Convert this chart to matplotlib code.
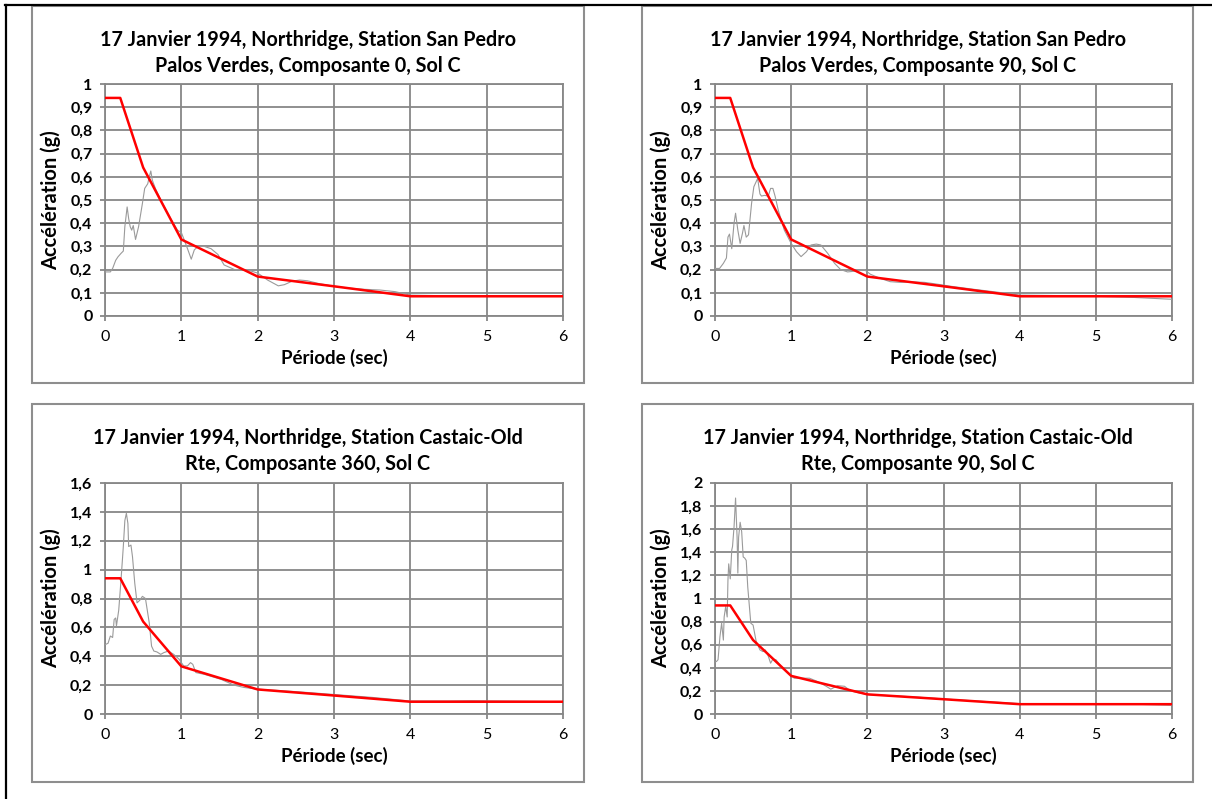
import matplotlib
matplotlib.use("Agg")
import matplotlib.pyplot as plt
from matplotlib.lines import Line2D
from matplotlib.patches import Rectangle
from matplotlib.ticker import FuncFormatter, MultipleLocator

plt.rcParams['font.family'] = ['Lato', 'DejaVu Sans']

W, H = 1212, 799

# Design spectrum (red), shared by all four records
design_T = [0.0, 0.2, 0.5, 1.0, 2.0, 3.0, 4.0, 6.0]
design_Sa = [0.94, 0.94, 0.64, 0.33, 0.17, 0.128, 0.085, 0.085]

# Response spectra of the recorded components (grey)
T1 = [0.0, 0.07, 0.10, 0.14, 0.17, 0.21, 0.24, 0.26, 0.29, 0.31, 0.33, 0.35, 0.37, 0.40, 0.44,
      0.49, 0.52, 0.56, 0.58, 0.60, 0.62, 0.66, 0.73, 0.86, 0.95, 1.00, 1.07, 1.13, 1.17, 1.22,
      1.30, 1.39, 1.48, 1.56, 1.63, 1.70, 1.78, 1.90, 2.00, 2.13, 2.27, 2.35, 2.45, 2.55, 2.65,
      2.80, 3.00, 3.20, 3.40, 3.60, 3.80, 4.00, 4.50, 5.00, 5.50, 6.00]
Sa1 = [0.19, 0.19, 0.205, 0.24, 0.255, 0.27, 0.28, 0.385, 0.47, 0.42, 0.385, 0.37, 0.39, 0.33, 0.385,
       0.485, 0.55, 0.57, 0.60, 0.625, 0.585, 0.55, 0.50, 0.42, 0.37, 0.36, 0.30, 0.245, 0.285, 0.30,
       0.30, 0.29, 0.265, 0.22, 0.21, 0.20, 0.20, 0.195, 0.185, 0.155, 0.13, 0.135, 0.15, 0.155, 0.152,
       0.14, 0.128, 0.12, 0.115, 0.112, 0.105, 0.09, 0.087, 0.088, 0.086, 0.085]

T2 = [0.0, 0.06, 0.11, 0.15, 0.17, 0.19, 0.22, 0.25, 0.27, 0.30, 0.33, 0.36, 0.38, 0.41, 0.44,
      0.48, 0.51, 0.56, 0.59, 0.61, 0.65, 0.70, 0.73, 0.76, 0.79, 0.83, 0.91, 1.00, 1.07, 1.13,
      1.20, 1.26, 1.33, 1.39, 1.48, 1.57, 1.65, 1.74, 1.83, 1.96, 2.04, 2.17, 2.30, 2.43, 2.60,
      2.75, 2.90, 3.10, 3.40, 3.70, 4.00, 4.50, 5.00, 5.50, 6.00]
Sa2 = [0.205, 0.205, 0.227, 0.25, 0.34, 0.353, 0.29, 0.40, 0.443, 0.37, 0.313, 0.356, 0.39, 0.34, 0.35,
       0.485, 0.557, 0.593, 0.526, 0.517, 0.52, 0.517, 0.55, 0.55, 0.515, 0.457, 0.37, 0.313, 0.277, 0.256,
       0.277, 0.306, 0.31, 0.306, 0.27, 0.227, 0.20, 0.19, 0.193, 0.20, 0.18, 0.162, 0.148, 0.145, 0.147,
       0.145, 0.138, 0.128, 0.115, 0.103, 0.09, 0.088, 0.085, 0.08, 0.072]

T3 = [0.0, 0.04, 0.07, 0.10, 0.12, 0.14, 0.15, 0.18, 0.21, 0.24, 0.26, 0.28, 0.30, 0.31, 0.34,
      0.36, 0.39, 0.42, 0.46, 0.49, 0.53, 0.58, 0.61, 0.64, 0.68, 0.73, 0.77, 0.83, 0.90, 0.97,
      1.03, 1.08, 1.12, 1.15, 1.19, 1.30, 1.52, 1.69, 1.82, 2.00, 2.20, 2.50, 3.00, 3.50, 4.00,
      4.50, 4.80, 5.20, 6.00]
Sa3 = [0.48, 0.49, 0.54, 0.53, 0.655, 0.665, 0.61, 0.72, 0.93, 1.16, 1.34, 1.39, 1.32, 1.16, 1.17,
       1.09, 0.905, 0.77, 0.79, 0.815, 0.80, 0.63, 0.47, 0.436, 0.43, 0.413, 0.425, 0.436, 0.413, 0.38,
       0.333, 0.333, 0.356, 0.344, 0.287, 0.275, 0.24, 0.20, 0.184, 0.172, 0.165, 0.155, 0.135, 0.115, 0.09,
       0.09, 0.092, 0.09, 0.085]

T4 = [0.0, 0.02, 0.04, 0.065, 0.087, 0.11, 0.12, 0.14, 0.16, 0.17, 0.18, 0.20, 0.22, 0.23, 0.25,
      0.27, 0.29, 0.30, 0.31, 0.33, 0.35, 0.37, 0.39, 0.41, 0.43, 0.47, 0.50, 0.54, 0.59, 0.63,
      0.66, 0.70, 0.73, 0.76, 0.80, 0.87, 0.96, 1.04, 1.13, 1.24, 1.35, 1.46, 1.52, 1.61, 1.70,
      1.78, 1.91, 2.04, 2.20, 2.50, 2.80, 3.00, 3.50, 4.00, 4.50, 5.00, 5.50, 6.00]
Sa4 = [0.45, 0.455, 0.47, 0.67, 0.786, 0.64, 0.84, 0.93, 0.84, 1.16, 1.30, 1.17, 1.42, 1.45, 1.62,
       1.87, 1.53, 1.22, 1.53, 1.66, 1.58, 1.36, 1.35, 1.33, 1.10, 0.786, 0.77, 0.63, 0.555, 0.54,
       0.555, 0.50, 0.44, 0.475, 0.47, 0.41, 0.355, 0.31, 0.31, 0.31, 0.28, 0.24, 0.215, 0.245, 0.24,
       0.20, 0.18, 0.167, 0.162, 0.152, 0.14, 0.13, 0.11, 0.09, 0.085, 0.09, 0.085, 0.075]

titles = [
    ("17 Janvier 1994, Northridge, Station San Pedro", "Palos Verdes, Composante 0, Sol C"),
    ("17 Janvier 1994, Northridge, Station San Pedro", "Palos Verdes, Composante 90, Sol C"),
    ("17 Janvier 1994, Northridge, Station Castaic-Old", "Rte, Composante 360, Sol C"),
    ("17 Janvier 1994, Northridge, Station Castaic-Old", "Rte, Composante 90, Sol C"),
]
periods = [T1, T2, T3, T4]
spectra = [Sa1, Sa2, Sa3, Sa4]
y_max = [1.0, 1.0, 1.6, 2.0]
y_step = [0.1, 0.1, 0.2, 0.2]
x_label = "Période (sec)"
y_label = "Accélération (g)"

# layout in pixels: chart boxes and plot areas
boxes = [(32, 6, 584, 383), (642, 6, 1193, 383), (32, 404, 584, 782), (642, 404, 1193, 782)]
plots = [(105, 84, 563, 316), (715, 84, 1172, 316), (105, 483, 563, 714), (715, 483, 1172, 714)]

GRID = '#878787'
BOX = '#8e8e8e'

fig = plt.figure(figsize=(W / 100, H / 100), dpi=100)
fig.patch.set_facecolor('white')


def fx(px):
    return px / W


def fy(py):
    return 1 - py / H


def comma(v, pos):
    s = f"{round(v, 2):g}"
    return s.replace('.', ',')


# page border (top and left)
fig.add_artist(Line2D([fx(5), 1.0], [fy(4.5), fy(4.5)], color='black', lw=1.6,
                      transform=fig.transFigure))
fig.add_artist(Line2D([fx(5.5), fx(5.5)], [fy(4.5), 0.0], color='black', lw=1.6,
                      transform=fig.transFigure))

for i in range(4):
    bx0, by0, bx1, by1 = boxes[i]
    fig.add_artist(Rectangle((fx(bx0), fy(by1)), fx(bx1) - fx(bx0), fy(by0) - fy(by1),
                             transform=fig.transFigure, facecolor='none', edgecolor=BOX,
                             lw=1.5))
    px0, py0, px1, py1 = plots[i]
    ax = fig.add_axes([fx(px0), fy(py1), fx(px1) - fx(px0), fy(py0) - fy(py1)])
    ax.set_xlim(0, 6)
    ax.set_ylim(0, y_max[i])
    ax.xaxis.set_major_locator(MultipleLocator(1))
    ax.yaxis.set_major_locator(MultipleLocator(y_step[i]))
    ax.yaxis.set_major_formatter(FuncFormatter(comma))
    ax.grid(True, color=GRID, lw=1.3)
    ax.set_axisbelow(True)
    for sp in ax.spines.values():
        sp.set_color(GRID)
        sp.set_linewidth(1.3)
    ax.tick_params(axis='both', color=GRID, width=1.3, length=3.5, direction='out')
    ax.tick_params(axis='y', pad=5.5, labelsize=11.5)
    ax.tick_params(axis='x', pad=6.5, labelsize=11.5)
    for lab in ax.get_yticklabels():
        lab.set_fontweight('bold')

    ax.plot(periods[i], spectra[i], color='#9a9a9a', lw=0.8, zorder=3)
    ax.plot(design_T, design_Sa, color='#ff0000', lw=1.8, zorder=4)

    ax.set_xlabel(x_label, fontsize=13.5, fontweight='bold')
    ax.xaxis.set_label_coords(0.5, -42.0 / (py1 - py0))
    ax.xaxis.label.set_va('center')
    ax.set_ylabel(y_label, fontsize=14.5, fontweight='bold')
    ax.yaxis.set_label_coords(-(px0 - (bx0 + 19)) / (px1 - px0), 0.5)
    ax.yaxis.label.set_va('center')

    cx = fx((bx0 + bx1) / 2)
    fig.text(cx, fy(by0 + 33.5), titles[i][0], ha='center', va='center',
             fontsize=14.2, fontweight='bold')
    fig.text(cx, fy(by0 + 59.5), titles[i][1], ha='center', va='center',
             fontsize=14.2, fontweight='bold')

fig.savefig('out.png', dpi=100)
